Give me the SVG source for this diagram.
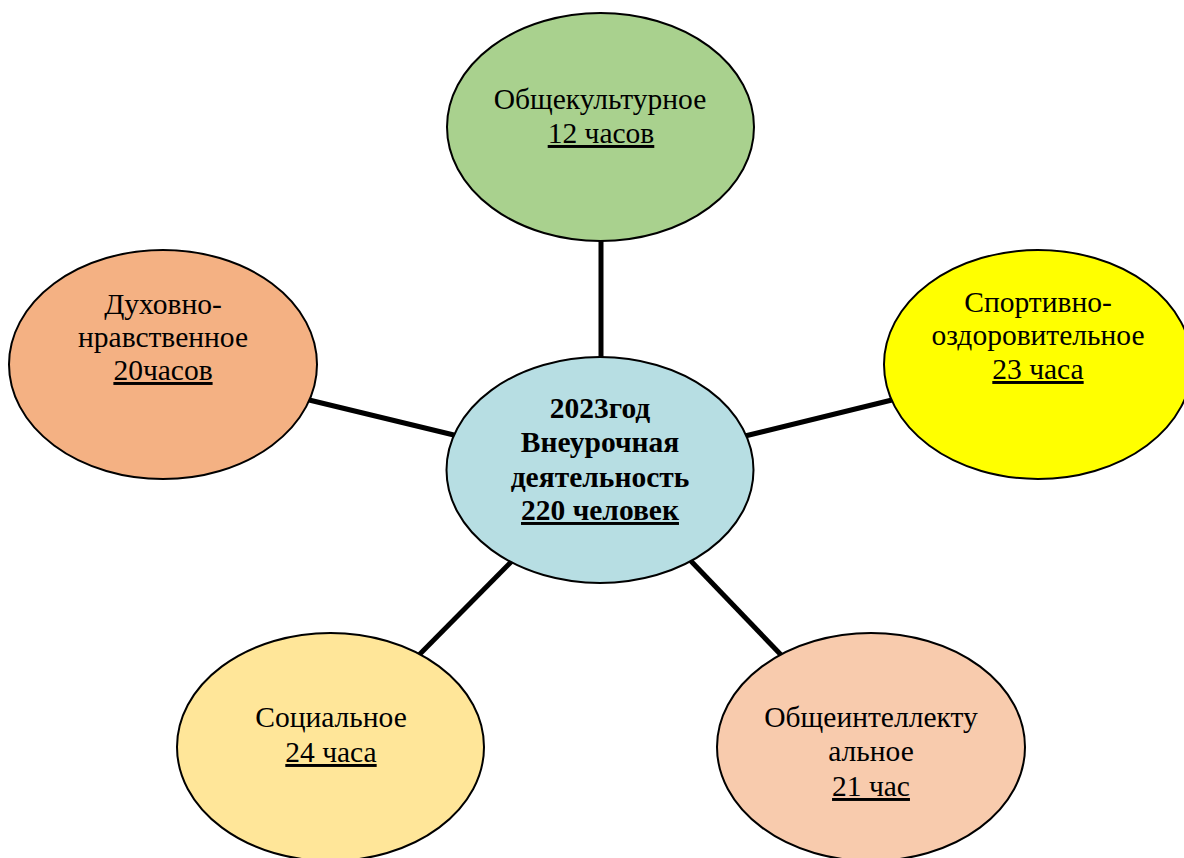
<svg xmlns="http://www.w3.org/2000/svg" width="1184" height="858" viewBox="0 0 1184 858">
<style>
.n{stroke:#000;stroke-width:2}
.t{font-family:"Liberation Serif","Times New Roman",serif;font-size:29.5px;fill:#000;text-anchor:middle}
.b{font-weight:bold}
.u{text-decoration:underline}
.c line{stroke:#000;stroke-width:5}
</style>
<rect width="1184" height="858" fill="#fff"/>
<g id="connectors" class="c">
<line x1="601" y1="235" x2="601" y2="362"/>
<line x1="305" y1="399" x2="458" y2="436"/>
<line x1="745" y1="436" x2="896" y2="399"/>
<line x1="514" y1="559" x2="416" y2="658"/>
<line x1="689" y1="559" x2="784" y2="658"/>
</g>
<g id="node-top">
<ellipse class="n" cx="600.5" cy="127" rx="153.5" ry="114" fill="#A9D18E"/>
<text class="t" x="600" y="109">Общекультурное</text>
<text class="t u" x="601" y="143">12 часов</text>
</g>
<g id="node-left">
<ellipse class="n" cx="163" cy="364.5" rx="154" ry="114.5" fill="#F4B183"/>
<text class="t" x="163" y="314">Духовно-</text>
<text class="t" x="163" y="347">нравственное</text>
<text class="t u" x="163" y="380">20часов</text>
</g>
<g id="node-right">
<ellipse class="n" cx="1038" cy="364.5" rx="154" ry="114.5" fill="#FFFF00"/>
<text class="t" x="1038" y="312">Спортивно-</text>
<text class="t" x="1038" y="345">оздоровительное</text>
<text class="t u" x="1038" y="379">23 часа</text>
</g>
<g id="node-center">
<ellipse class="n" cx="600" cy="470" rx="153.5" ry="113" fill="#B7DEE3"/>
<text class="t b" x="600" y="418">2023год</text>
<text class="t b" x="600" y="452">Внеурочная</text>
<text class="t b" x="600" y="487">деятельность</text>
<text class="t b u" x="600" y="520">220 человек</text>
</g>
<g id="node-bottom-left">
<ellipse class="n" cx="330.5" cy="747" rx="153.5" ry="114" fill="#FFE699"/>
<text class="t" x="331" y="727">Социальное</text>
<text class="t u" x="331" y="762">24 часа</text>
</g>
<g id="node-bottom-right">
<ellipse class="n" cx="871" cy="747" rx="154" ry="114" fill="#F8CBAD"/>
<text class="t" x="871" y="727">Общеинтеллекту</text>
<text class="t" x="871" y="761">альное</text>
<text class="t u" x="871" y="796">21 час</text>
</g>
</svg>
